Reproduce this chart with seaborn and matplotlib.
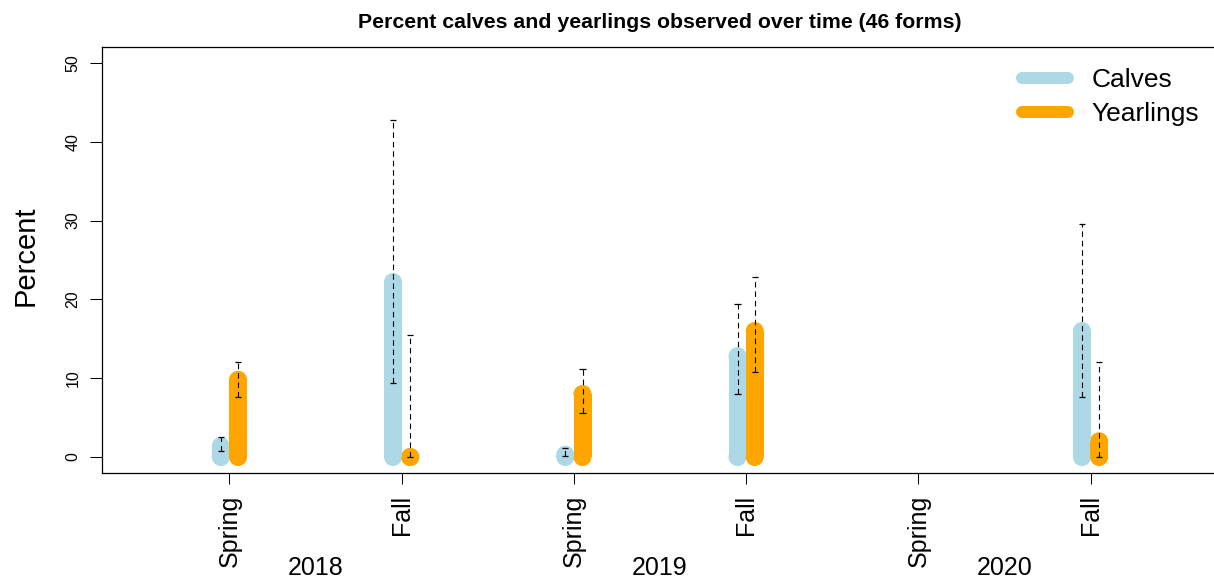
import numpy as np
import pandas as pd
import matplotlib
matplotlib.use("Agg")
import matplotlib.pyplot as plt
import matplotlib.transforms as mtransforms
from matplotlib.lines import Line2D
import seaborn as sns

# Survey periods
seasons = ["Spring", "Fall", "Spring", "Fall", "Spring", "Fall"]
years = ["2018", "2019", "2020"]

# Percent observed (mean) with lower / upper bounds; Spring 2020 not surveyed
calves = [1.4, 22.2, 0.3, 12.8, np.nan, 16.0]
calves_lo = [0.8, 9.4, 0.1, 8.0, np.nan, 7.6]
calves_hi = [2.6, 42.8, 1.2, 19.4, np.nan, 29.6]

yearlings = [9.8, 0.0, 8.0, 16.0, np.nan, 2.0]
yearlings_lo = [7.6, 0.0, 5.6, 10.8, np.nan, 0.0]
yearlings_hi = [12.0, 15.5, 11.2, 22.9, np.nan, 12.0]

groups = ["Calves", "Yearlings"]
palette = {"Calves": "#ADD8E6", "Yearlings": "#FFA500"}

sns.set_theme(style="ticks")
plt.rcParams["font.family"] = ["Liberation Sans", "DejaVu Sans"]
plt.rcParams["text.color"] = "black"
plt.rcParams["axes.labelcolor"] = "black"
plt.rcParams["xtick.color"] = "black"
plt.rcParams["ytick.color"] = "black"

# Long-form table: one vertical stroke per group/period (from 0 up to the value)
offsets = {"Calves": -0.05, "Yearlings": 0.05}
series = {"Calves": (calves, calves_lo, calves_hi),
          "Yearlings": (yearlings, yearlings_lo, yearlings_hi)}
rows = []
for g in groups:
    vals = series[g][0]
    for i, v in enumerate(vals):
        if np.isnan(v):
            continue
        x = i + 1 + offsets[g]
        uid = f"{g}-{i}"
        rows.append({"x": x, "y": 0.0, "group": g, "unit": uid})
        rows.append({"x": x, "y": v, "group": g, "unit": uid})
df = pd.DataFrame(rows)

fig = plt.figure(figsize=(12.14, 5.79), dpi=100)
W, H = 1214, 579
ax = fig.add_axes([102 / W, (H - 472.8) / H, (1218 - 102) / W, (472.8 - 47.2) / H])

bar_lw = 18 * 72 / 100
sns.lineplot(data=df, x="x", y="y", hue="group", units="unit", estimator=None,
             sort=False, palette=palette, linewidth=bar_lw, legend=False, ax=ax)
for ln in ax.get_lines():
    ln.set_solid_capstyle("butt")
# Rounded ends of each stroke (also gives a dot for zero-length strokes)
sns.scatterplot(data=df, x="x", y="y", hue="group", palette=palette,
                s=bar_lw ** 2, linewidth=0, marker="o", legend=False, ax=ax)

# Dashed interval lines with small caps
for g in groups:
    vals, lo, hi = series[g]
    for i, v in enumerate(vals):
        if np.isnan(v):
            continue
        x = i + 1 + offsets[g]
        ax.plot([x, x], [lo[i], hi[i]], color="black", lw=0.8,
                linestyle=(0, (5, 3.5)), zorder=5)
        for yy in (lo[i], hi[i]):
            ax.plot([x - 0.018, x + 0.018], [yy, yy], color="black", lw=0.9,
                    solid_capstyle="butt", zorder=5)

ax.set_xlim(0.26, 6.74)
ax.set_ylim(-2, 52)
ax.set_xticks(range(1, 7))
ax.set_xticklabels(seasons, rotation=90, fontsize=18)
ax.set_yticks(range(0, 51, 10))
ax.set_yticklabels([str(v) for v in range(0, 51, 10)], rotation=90, va="center",
                   fontsize=11.5)
ax.tick_params(axis="x", length=8, width=0.75, pad=8, color="black")
ax.tick_params(axis="y", length=8.5, width=0.75, pad=7, color="black")
for sp in ax.spines.values():
    sp.set_linewidth(0.9)
    sp.set_color("black")
ax.set_xlabel("")
ax.set_ylabel("Percent", fontsize=21)
ax.yaxis.set_label_coords(-0.0556, 0.51)

ax.set_title("Percent calves and yearlings observed over time (46 forms)",
             fontsize=15.3, fontweight="bold", pad=14)

# Year labels centred under each Spring/Fall pair
trans = mtransforms.blended_transform_factory(ax.transData, ax.transAxes)
for k, yr in enumerate(years):
    ax.text(2 * k + 1.5, -0.224, yr, transform=trans, ha="center", va="center",
            fontsize=18)

handles = [Line2D([0], [0], color=palette[g], lw=12 * 72 / 100,
                  solid_capstyle="round") for g in groups]
ax.legend(handles, groups, loc="upper left", bbox_to_anchor=(1022 / W, 1 - 68 / H),
          bbox_transform=fig.transFigure, frameon=False, fontsize=19,
          handlelength=1.75, handletextpad=0.9, labelspacing=0.38, borderpad=0,
          borderaxespad=0)

fig.savefig("out.png", dpi=100)
